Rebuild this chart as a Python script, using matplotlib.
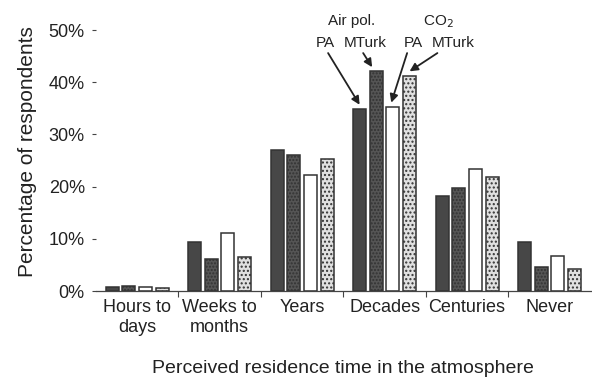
import numpy as np
import matplotlib.pyplot as plt
from matplotlib.ticker import FuncFormatter, MultipleLocator

plt.rcParams['font.family'] = ['Liberation Sans', 'DejaVu Sans']

# data (percent of respondents)
categories = ["Hours to\ndays", "Weeks to\nmonths", "Years", "Decades", "Centuries", "Never"]
air_pa = [0.8, 9.4, 27.0, 34.9, 18.2, 9.4]
air_mturk = [1.0, 6.1, 26.0, 42.1, 19.8, 4.7]
co2_pa = [0.8, 11.2, 22.3, 35.3, 23.3, 6.8]
co2_mturk = [0.5, 6.5, 25.4, 41.3, 21.9, 4.2]

series = [air_pa, air_mturk, co2_pa, co2_mturk]
styles = [
    dict(color="#474747", hatch=None),
    dict(color="#555555", hatch="....."),
    dict(color="white", hatch=None),
    dict(color="#e0e0e0", hatch="...."),
]

fig = plt.figure(figsize=(5.92, 3.81), dpi=100)
ax = fig.add_axes([0.162, 0.236, 0.836, 0.685])

x = np.arange(len(categories))
pitch = 0.202
width = 0.158
offsets = (np.arange(4) - 1.5) * pitch

for vals, off, st in zip(series, offsets, styles):
    ax.bar(x + off, vals, width, color=st["color"], hatch=st["hatch"],
           edgecolor="#333333", linewidth=1.1, zorder=2)

ax.set_xlim(-0.5, len(categories) - 0.5)
ax.set_ylim(0, 50)
ax.yaxis.set_major_locator(MultipleLocator(10))
ax.yaxis.set_major_formatter(FuncFormatter(lambda v, p: f"{v:.0f}%"))

ax.set_xticks(x)
ax.set_xticklabels(categories)
ax.set_xticks(np.arange(len(categories) - 1) + 0.5, minor=True)
ax.tick_params(axis="x", which="major", length=0, pad=6, labelsize=13, colors="#222222")
ax.tick_params(axis="x", which="minor", length=4, width=0.8, direction="out", color="#444444")
ax.tick_params(axis="y", length=3, width=0.8, pad=5, labelsize=13, colors="#222222")
ax.tick_params(axis="y", color="#444444")

for s in ["top", "right", "left"]:
    ax.spines[s].set_visible(False)
ax.spines["bottom"].set_color("#444444")
ax.spines["bottom"].set_linewidth(0.9)

ax.set_ylabel("Percentage of respondents", fontsize=15, color="#222222")
ax.yaxis.set_label_coords(-0.12, 0.535)
ax.set_xlabel("Perceived residence time in the atmosphere", fontsize=14,
              color="#222222", labelpad=17)

# labels and arrows over the Decades group
d = categories.index("Decades")
lab_kw = dict(ha="center", va="center", fontsize=11, color="#222222", clip_on=False)
ax.text(2.594, 51.7, "Air pol.", **lab_kw)
ax.text(3.648, 51.7, "CO$_2$", **lab_kw)
ax.text(2.279, 47.5, "PA", **lab_kw)
ax.text(2.764, 47.5, "MTurk", **lab_kw)
ax.text(3.345, 47.5, "PA", **lab_kw)
ax.text(3.830, 47.5, "MTurk", **lab_kw)

starts = [(2.315, 45.6), (2.74, 45.6), (3.273, 45.6), (3.64, 45.6)]
tip_dx = [0.0, -0.05, -0.02, 0.0]
for vals, off, st_xy, dx in zip(series, offsets, starts, tip_dx):
    ax.annotate("", xy=(d + off + dx, vals[d] + 0.8), xytext=st_xy,
                arrowprops=dict(arrowstyle="-|>", color="#222222", lw=1.3,
                                mutation_scale=12, shrinkA=0, shrinkB=0),
                annotation_clip=False)

fig.savefig("out.png", dpi=100)
